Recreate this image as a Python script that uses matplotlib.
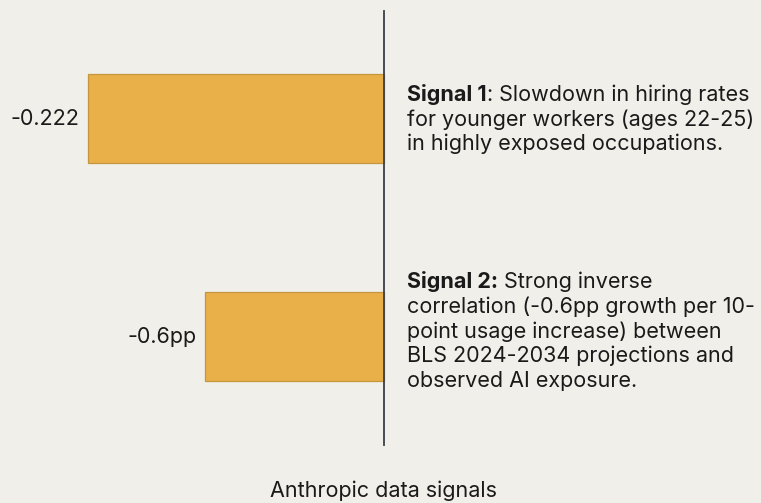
import matplotlib.pyplot as plt

plt.rcParams['font.family'] = ['Inter', 'DejaVu Sans']

# data
signals = ['Signal 1', 'Signal 2']
bar_values = [-0.222, -0.134]          # drawn bar lengths
value_labels = ['-0.222', '-0.6pp']
descriptions = [
    ['Slowdown in hiring rates', 'for younger workers (ages 22-25)', 'in highly exposed occupations.'],
    ['Strong inverse', 'correlation (-0.6pp growth per 10-', 'point usage increase) between',
     'BLS 2024-2034 projections and', 'observed AI exposure.'],
]
heads = ['Signal 1', 'Signal 2:']
rests = [': ' + descriptions[0][0], ' ' + descriptions[1][0]]
title = 'Anthropic data signals'

bg = '#f0efea'
bar_color = '#e9af48'
edge_color = '#c4963e'
text_color = '#1a1a1a'
fs = 15.5
px = 0.72  # points per pixel at dpi 100

fig = plt.figure(figsize=(7.61, 5.03), dpi=100, facecolor=bg)
ax = fig.add_axes([0, 0, 1, 1], facecolor=bg)

scale = 296 / 0.222  # px per unit
ax.set_xlim(-384 / scale, (761 - 384) / scale)
ax.set_ylim(1 + (503 - 336.5) / 218, -118.5 / 218)

ypos = list(range(len(signals)))
ax.barh(ypos, bar_values, height=89 / 218, color=bar_color,
        edgecolor=edge_color, linewidth=0.9)
ax.axvline(0, ymin=1 - 445 / 503, ymax=1 - 11 / 503, color='#3a3f47', lw=1.3)

for y, v, lab in zip(ypos, bar_values, value_labels):
    ax.annotate(lab, xy=(v, y), xytext=(-9 * px, 0), textcoords='offset points',
                ha='right', va='center', fontsize=fs, color=text_color)

line_h = 24.8
for i, y in enumerate(ypos):
    lines = descriptions[i]
    n = len(lines)
    shift = -5 if i == 1 else 1
    for k in range(n):
        dy = (k - (n - 1) / 2) * line_h + shift + 6
        if k == 0:
            t = ax.annotate(heads[i], xy=(0, y), xytext=(23 * px, -dy * px),
                            textcoords='offset points', ha='left', va='baseline',
                            fontsize=fs, fontweight='bold', color=text_color)
            ax.annotate(rests[i], xy=(1, 0), xycoords=t, ha='left', va='bottom',
                        fontsize=fs, color=text_color)
        else:
            ax.annotate(lines[k], xy=(0, y), xytext=(23 * px, -dy * px),
                        textcoords='offset points', ha='left', va='baseline',
                        fontsize=fs, color=text_color)

fig.text(384 / 761, 1 - 491 / 503, title, ha='center', va='center',
         fontsize=fs, color=text_color)

ax.axis('off')
fig.savefig('out.png', dpi=100, facecolor=bg)
